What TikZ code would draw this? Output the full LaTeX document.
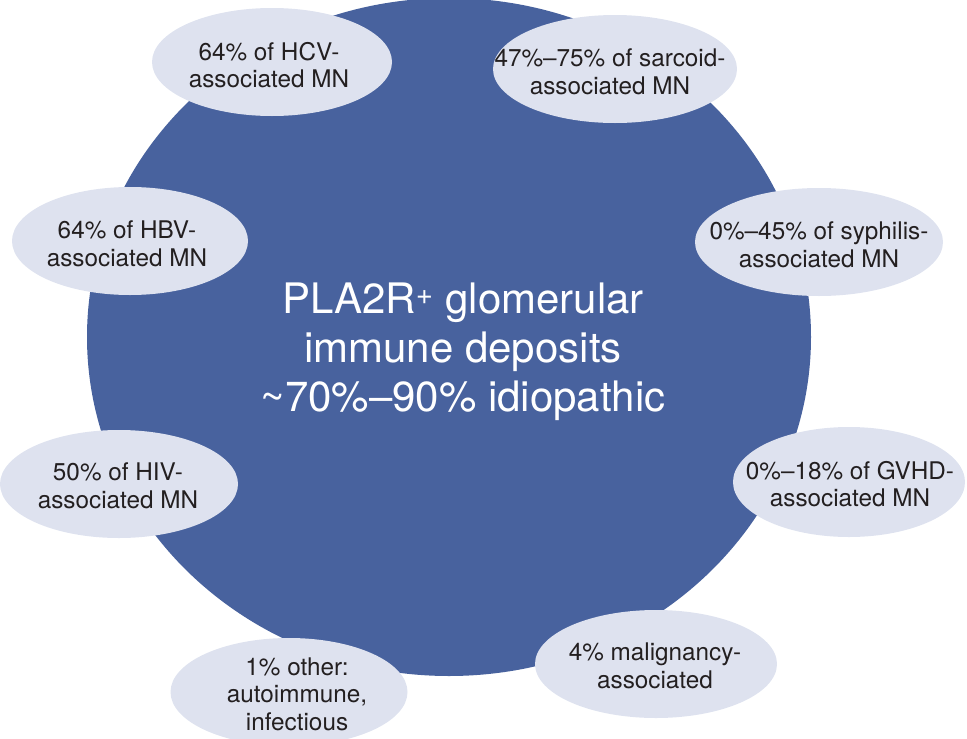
\documentclass[tikz,border=0pt]{standalone}
\usepackage{fontspec}
\setmainfont{TeX Gyre Heros}
\usetikzlibrary{shapes.geometric}
\definecolor{circblue}{RGB}{72,98,158}
\definecolor{ovalfill}{RGB}{222,226,239}
\definecolor{txtdark}{RGB}{35,31,32}
\tikzset{
  core/.style={ellipse, fill=circblue, inner sep=0pt, minimum width=724pt, minimum height=678pt},
  oval/.style={ellipse, fill=ovalfill, inner sep=0pt, minimum width=240pt, minimum height=108pt},
  lbl/.style={text=txtdark, align=center, inner sep=0pt, font=\fontsize{24.3}{27.5}\selectfont},
  mainlbl/.style={text=white, align=center, inner sep=0pt, font=\fontsize{42}{49}\selectfont}
}
\begin{document}
\begin{tikzpicture}[x=1pt,y=-1pt]
\useasboundingbox (0,0) rectangle (967,739);
\clip (0,0) rectangle (967,739);
\node[core] (core) at (449,337) {};
\node[mainlbl] (main) at (463,352) {PLA2R\textsuperscript{+} glomerular\\immune deposits\\\textasciitilde70\%–90\% idiopathic};

\node[oval] (hcv) at (272,62) {};
\node[lbl] (hcvt) at (269,65) {64\% of HCV-\\associated MN};

\node[oval, minimum width=244pt] (sarc) at (615,69) {};
\node[lbl] (sarct) at (610,72) {47\%–75\% of sarcoid-\\associated MN};

\node[oval, minimum width=236pt] (hbv) at (130,241) {};
\node[lbl] (hbvt) at (127,244) {64\% of HBV-\\associated MN};

\node[oval, minimum width=248pt] (syph) at (819,242) {};
\node[lbl] (sypht) at (819,245) {0\%–45\% of syphilis-\\associated MN};

\node[oval, minimum width=238pt] (hiv) at (119,484) {};
\node[lbl] (hivt) at (118,486) {50\% of HIV-\\associated MN};

\node[oval, minimum width=232pt, minimum height=110pt] (gvhd) at (849,482) {};
\node[lbl] (gvhdt) at (850,484) {0\%–18\% of GVHD-\\associated MN};

\node[oval, minimum width=242pt] (malig) at (656,664) {};
\node[lbl] (maligt) at (655,666) {4\% malignancy-\\associated};

\node[oval, minimum width=237pt] (other) at (289,692) {};
\node[lbl] (othert) at (297,694) {1\% other:\\autoimmune,\\infectious};
\end{tikzpicture}
\end{document}
